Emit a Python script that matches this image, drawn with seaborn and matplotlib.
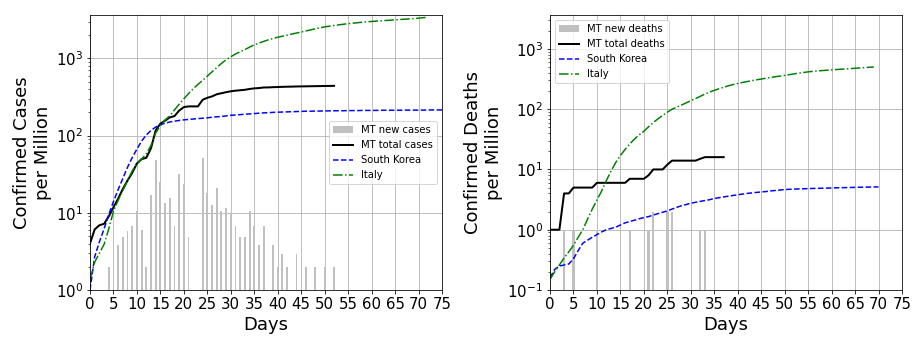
import numpy as np
import pandas as pd
import matplotlib
matplotlib.use("Agg")
import matplotlib.pyplot as plt
import seaborn as sns

# ---------------- data (per million) ----------------
# Left panel: confirmed cases
mt_new_case_days = [4, 5, 6, 7, 8, 9, 10, 11, 12, 13, 14, 15, 16, 17, 18, 19, 20, 21,
                    24, 25, 26, 27, 28, 29, 30, 31, 32, 33, 34, 35, 36, 37,
                    39, 40, 41, 42, 44, 46, 48, 50, 52]
mt_new_cases = [2.0, 2.9, 3.8, 4.9, 5.8, 6.8, 10.6, 6.0, 2.0, 17.1, 48.8, 25.3, 13.5, 15.7, 6.8, 32.1, 23.3, 4.9,
                51.8, 18.2, 12.7, 21.1, 10.6, 11.6, 10.0, 6.8, 4.9, 4.9, 10.6, 6.8, 3.8, 6.8,
                3.8, 2.0, 2.9, 2.0, 2.9, 2.0, 2.0, 2.0, 2.0]

mt_total_cases = [4.0, 6.1, 6.9, 7.2, 9.0, 11.8, 15.3, 20.4, 26.2, 33.0,
                  43.6, 49.6, 51.6, 68.7, 117, 143, 156, 172, 179, 211,
                  234, 239, 239, 239, 291, 309, 322, 343, 354, 365,
                  375, 382, 387, 392, 402, 409, 413, 420, 421, 424,
                  426, 428, 430, 431, 433, 434, 435, 436, 437, 438,
                  439, 440, 441]

korea_cases = [1.0, 2.7, 4.2, 6.2, 9.5, 14.0, 20.0, 28.0, 39.0, 52.0,
               67.0, 85.0, 102, 117, 129, 138, 145, 150, 154, 157,
               160, 162, 164, 166, 168, 170, 173, 175, 177, 180,
               183, 185, 187, 189, 191, 193, 195, 197, 198, 200,
               201, 202, 203, 204, 205, 206, 207, 207, 208, 208,
               209, 209, 210, 210, 210, 211, 211, 211, 212, 212,
               212, 212, 213, 213, 213, 213, 213, 214, 214, 214,
               214, 214, 215, 215, 215, 215]

italy_cases = [1.35, 2.3, 3.0, 3.9, 6.2, 10.5, 14.5, 19.5, 26.0, 35.0,
               43.0, 50.0, 58.0, 75.0, 108, 135, 160, 180, 215, 255,
               300, 350, 405, 460, 520, 590, 670, 760, 860, 960,
               1050, 1140, 1220, 1300, 1400, 1500, 1580, 1660, 1740, 1810,
               1880, 1940, 2000, 2070, 2130, 2200, 2270, 2340, 2420, 2490,
               2560, 2620, 2670, 2720, 2770, 2820, 2860, 2900, 2940, 2980,
               3010, 3040, 3070, 3100, 3130, 3160, 3190, 3220, 3250, 3280,
               3320, 3370, 3430]

# Right panel: confirmed deaths
mt_new_death_days = [3, 5, 10, 17, 21, 22, 25, 26, 32, 33]
mt_new_deaths = [1, 1, 1, 1, 1, 2, 2, 2, 1, 1]

mt_total_deaths = [1, 1, 1, 4, 4, 5, 5, 5, 5, 5,
                   6, 6, 6, 6, 6, 6, 6, 7, 7, 7,
                   7, 8, 10, 10, 10, 12, 14, 14, 14, 14,
                   14, 14, 15, 16, 16, 16, 16, 16]

korea_deaths = [0.16, 0.22, 0.25, 0.26, 0.27, 0.33, 0.45, 0.60, 0.67, 0.75,
                0.83, 0.92, 1.0, 1.05, 1.1, 1.2, 1.3, 1.37, 1.44, 1.52,
                1.59, 1.65, 1.75, 1.85, 1.95, 2.05, 2.2, 2.35, 2.5, 2.62,
                2.75, 2.85, 2.95, 3.05, 3.15, 3.3, 3.4, 3.5, 3.6, 3.7,
                3.8, 3.9, 4.0, 4.08, 4.16, 4.23, 4.3, 4.4, 4.48, 4.56,
                4.64, 4.68, 4.72, 4.75, 4.78, 4.81, 4.84, 4.86, 4.88, 4.9,
                4.93, 4.96, 4.98, 5.0, 5.02, 5.04, 5.06, 5.08, 5.1, 5.12,
                5.13]

italy_deaths = [0.15, 0.20, 0.26, 0.34, 0.43, 0.55, 0.75, 1.0, 1.5, 2.2,
                3.1, 4.4, 6.5, 9.4, 13.0, 17.0, 21.5, 26.5, 32.0, 37.5,
                43.0, 51.0, 60.0, 69.0, 79.0, 89.0, 100, 108, 117, 127,
                138, 150, 163, 178, 192, 205, 218, 231, 244, 256,
                267, 277, 287, 297, 307, 316, 326, 336, 345, 354,
                363, 374, 385, 396, 406, 416, 424, 431, 437, 443,
                449, 454, 460, 465, 471, 477, 483, 489, 495, 501]

x_ticks = list(range(0, 80, 5))


def series(vals):
    return pd.DataFrame({"day": np.arange(len(vals)), "value": vals})


W, H = 921, 345
fig = plt.figure(figsize=(W / 72, H / 72), dpi=72)
ax1 = fig.add_axes([90 / W, 55 / H, 352 / W, 275 / H])
ax2 = fig.add_axes([550 / W, 55 / H, 352 / W, 275 / H])


def panel(ax, bar_days, bar_vals, bar_label, total, total_label, korea, italy,
          ylabel, ybottom, loc, bar_width):
    sns.barplot(x=bar_days, y=bar_vals, native_scale=True, color="silver",
                width=bar_width, errorbar=None, label=bar_label, ax=ax,
                saturation=1)
    sns.lineplot(data=series(total), x="day", y="value", color="black",
                 linewidth=2, label=total_label, ax=ax, errorbar=None)
    sns.lineplot(data=series(korea), x="day", y="value", color="blue",
                 linestyle="--", linewidth=1.5, label="South Korea", ax=ax,
                 errorbar=None)
    sns.lineplot(data=series(italy), x="day", y="value", color="green",
                 linestyle="-.", linewidth=1.5, label="Italy", ax=ax,
                 errorbar=None)
    ax.set_yscale("log")
    ax.set_ylim(ybottom, 3650)
    ax.set_xlim(0, 75)
    ax.set_xticks(x_ticks)
    ax.set_xticklabels([str(t) for t in x_ticks])
    ax.grid(True, which="major", color="#b0b0b0", linewidth=0.8)
    ax.set_axisbelow(True)
    ax.tick_params(axis="both", which="major", labelsize=15)
    ax.set_xlabel("Days", fontsize=18)
    ax.set_ylabel(ylabel, fontsize=18)
    for s in ax.spines.values():
        s.set_visible(True)
        s.set_color("black")
    h, l = ax.get_legend_handles_labels()
    order = [bar_label, total_label, "South Korea", "Italy"]
    hd = dict(zip(l, h))
    ax.legend([hd[k] for k in order], order, loc=loc, fontsize=10)


panel(ax1, mt_new_case_days, mt_new_cases, "MT new cases", mt_total_cases,
      "MT total cases", korea_cases, italy_cases,
      "Confirmed Cases\nper Million", 1, "center right", 0.4)
panel(ax2, mt_new_death_days, mt_new_deaths, "MT new deaths", mt_total_deaths,
      "MT total deaths", korea_deaths, italy_deaths,
      "Confirmed Deaths\nper Million", 0.1, "upper left", 0.5)

fig.savefig("out.png", dpi=72)
